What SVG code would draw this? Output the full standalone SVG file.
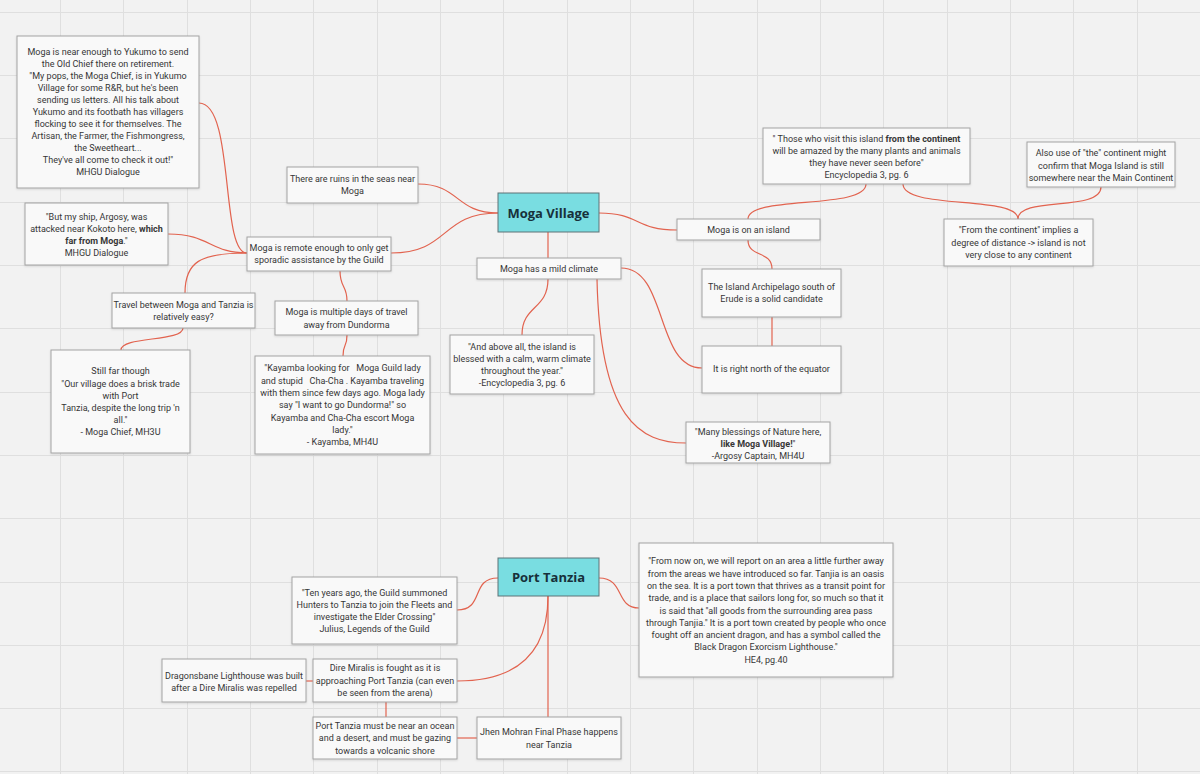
<svg xmlns="http://www.w3.org/2000/svg" width="1200" height="774" viewBox="0 0 1200 774">
<style>
.bg{fill:#f2f2f2}
.grid{stroke:#dfdfdf;stroke-width:1;fill:none}
.box{fill:#f9f9f9;stroke:#a3a3a3;stroke-width:1}
.hub{fill:#79dde1;stroke:#5e7276;stroke-width:1}
.t{font-family:Roboto,"Noto Sans",sans-serif;font-size:9px;fill:#363636;text-anchor:middle}
.h{font-family:"Open Sans","Noto Sans",sans-serif;font-size:13px;font-weight:bold;fill:#17303a;text-anchor:middle}
.c{fill:none;stroke:#e2634f;stroke-width:1.2}
.b{font-weight:bold}
</style>
<defs>
<filter id="sh" x="-5%" y="-5%" width="110%" height="115%">
<feDropShadow dx="0" dy="1" stdDeviation="0.8" flood-color="#000" flood-opacity="0.12"/>
</filter>
</defs>
<rect class="bg" x="0" y="0" width="1200" height="774"/>
<path class="grid" d="M60.5,0V774M123.5,0V774M187.5,0V774M250.5,0V774M313.5,0V774M377.5,0V774M440.5,0V774M503.5,0V774M567.5,0V774M630.5,0V774M693.5,0V774M757.5,0V774M820.5,0V774M883.5,0V774M947.5,0V774M1010.5,0V774M1073.5,0V774M1137.5,0V774M0,12.5H1200M0,75.5H1200M0,138.5H1200M0,202.5H1200M0,265.5H1200M0,328.5H1200M0,392.5H1200M0,455.5H1200M0,518.5H1200M0,582.5H1200M0,645.5H1200M0,708.5H1200M0,771.5H1200"/>

<g id="connectors">
<path class="c" d="M199,103 C235,103 220,253 247,253"/>
<path class="c" d="M168,234 C210,234 210,253 247,253"/>
<path class="c" d="M247,253 C200,253 185,262 185,293"/>
<path class="c" d="M183,328 C183,342 121,336 121,350"/>
<path class="c" d="M340,271 C340,288 347,285 347,301"/>
<path class="c" d="M347,335 C347,348 343,343 343,356"/>
<path class="c" d="M391,253 C450,253 440,213 498,213"/>
<path class="c" d="M418,184 C460,184 455,213 498,213"/>
<path class="c" d="M599,213 C640,213 635,230 677,230"/>
<path class="c" d="M548,232 L548,258"/>
<path class="c" d="M748,219 C748,195 866,210 866,184"/>
<path class="c" d="M903,184 C903,210 1018,195 1018,219"/>
<path class="c" d="M1101,187 C1101,212 1018,196 1018,219"/>
<path class="c" d="M748,240 C748,258 772,250 772,269"/>
<path class="c" d="M772,317 L772,346"/>
<path class="c" d="M621,268 C668,268 655,368 702,368"/>
<path class="c" d="M548,279 C548,310 522,305 522,335"/>
<path class="c" d="M597,279 C600,420 640,443 686,443"/>
<path class="c" d="M457,610 C485,610 470,578 498,578"/>
<path class="c" d="M548,596 C548,660 510,681 457,681"/>
<path class="c" d="M548,596 L548,717"/>
<path class="c" d="M386,702 L386,717"/>
<path class="c" d="M457,738 L477,738"/>
<path class="c" d="M306,681 L313,681"/>
<path class="c" d="M599,578 C625,578 615,608 639,608"/>
</g>

<g id="n-yukumo">
<rect class="box" filter="url(#sh)" x="17" y="36" width="182" height="152"/>
<text class="t"><tspan x="108" y="55">Moga is near enough to Yukumo to send</tspan><tspan x="108" y="67">the Old Chief there on retirement.</tspan><tspan x="108" y="79">"My pops, the Moga Chief, is in Yukumo</tspan><tspan x="108" y="91">Village for some R&amp;R, but he's been</tspan><tspan x="108" y="103">sending us letters.  All his talk about</tspan><tspan x="108" y="115">Yukumo and its footbath has villagers</tspan><tspan x="108" y="127">flocking to see it for themselves. The</tspan><tspan x="108" y="139">Artisan, the Farmer, the Fishmongress,</tspan><tspan x="108" y="151">the Sweetheart...</tspan><tspan x="108" y="163">They've all come to check it out!"</tspan><tspan x="108" y="175">MHGU Dialogue</tspan></text>
</g>

<g id="n-argosy">
<rect class="box" filter="url(#sh)" x="25" y="203" width="143" height="62"/>
<text class="t"><tspan x="96.5" y="220">"But my ship, Argosy, was</tspan><tspan x="96.5" y="232">attacked near Kokoto here, <tspan class="b">which</tspan></tspan><tspan x="96.5" y="244"><tspan class="b">far from Moga</tspan>."</tspan><tspan x="96.5" y="256">MHGU Dialogue</tspan></text>
</g>

<g id="n-remote">
<rect class="box" filter="url(#sh)" x="247" y="237" width="144" height="34"/>
<text class="t"><tspan x="319" y="251">Moga is remote enough to only get</tspan><tspan x="319" y="263">sporadic assistance by the Guild</tspan></text>
</g>

<g id="n-ruins">
<rect class="box" filter="url(#sh)" x="287" y="167" width="131" height="36"/>
<text class="t"><tspan x="352.5" y="182">There are ruins in the seas near</tspan><tspan x="352.5" y="194">Moga</tspan></text>
</g>

<g id="n-travel">
<rect class="box" filter="url(#sh)" x="112" y="293" width="143" height="35"/>
<text class="t"><tspan x="183.5" y="308">Travel between Moga and Tanzia is</tspan><tspan x="183.5" y="320">relatively easy?</tspan></text>
</g>

<g id="n-stillfar">
<rect class="box" filter="url(#sh)" x="51" y="350" width="139" height="103"/>
<text class="t"><tspan x="120.5" y="374">Still far though</tspan><tspan x="120.5" y="387">"Our village does a brisk trade</tspan><tspan x="120.5" y="399">with Port</tspan><tspan x="120.5" y="411">Tanzia, despite the long trip 'n</tspan><tspan x="120.5" y="423">all."</tspan><tspan x="120.5" y="435">- Moga Chief, MH3U</tspan></text>
</g>

<g id="n-dundorma">
<rect class="box" filter="url(#sh)" x="275" y="301" width="143" height="34"/>
<text class="t"><tspan x="346.5" y="315">Moga is multiple days of travel</tspan><tspan x="346.5" y="328">away from Dundorma</tspan></text>
</g>

<g id="n-kayamba">
<rect class="box" filter="url(#sh)" x="255" y="356" width="175" height="98"/>
<text class="t" xml:space="preserve"><tspan x="342.5" y="371">"Kayamba looking for   Moga Guild lady</tspan><tspan x="342.5" y="383.5">and stupid   Cha-Cha . Kayamba traveling</tspan><tspan x="342.5" y="396">with them since few days ago. Moga lady</tspan><tspan x="342.5" y="408">say "I want to go Dundorma!" so</tspan><tspan x="342.5" y="420.5">Kayamba and Cha-Cha escort Moga</tspan><tspan x="342.5" y="433">lady."</tspan><tspan x="342.5" y="445">- Kayamba, MH4U</tspan></text>
</g>

<g id="n-moga">
<rect class="hub" x="498" y="193" width="101" height="39"/>
<text class="h" x="548.5" y="218">Moga Village</text>
</g>

<g id="n-mild">
<rect class="box" filter="url(#sh)" x="477" y="258" width="144" height="21"/>
<text class="t" x="549" y="272">Moga has a mild climate</text>
</g>

<g id="n-encyclo">
<rect class="box" filter="url(#sh)" x="450" y="335" width="144" height="59"/>
<text class="t"><tspan x="522" y="350">"And above all, the island is</tspan><tspan x="522" y="362">blessed with a calm, warm climate</tspan><tspan x="522" y="374">throughout the year."</tspan><tspan x="522" y="386">-Encyclopedia 3, pg. 6</tspan></text>
</g>

<g id="n-continent-quote">
<rect class="box" filter="url(#sh)" x="763" y="128" width="207" height="56"/>
<text class="t"><tspan x="866.5" y="142">" Those who visit this island <tspan class="b">from the continent</tspan></tspan><tspan x="866.5" y="154">will be amazed by the many plants and animals</tspan><tspan x="866.5" y="166">they have never seen before"</tspan><tspan x="866.5" y="178">Encyclopedia 3, pg. 6</tspan></text>
</g>

<g id="n-island">
<rect class="box" filter="url(#sh)" x="677" y="219" width="143" height="21"/>
<text class="t" x="748.5" y="233">Moga is on an island</text>
</g>

<g id="n-fromcontinent">
<rect class="box" filter="url(#sh)" x="944" y="219" width="149" height="47"/>
<text class="t"><tspan x="1018.5" y="233">"From the continent" implies a</tspan><tspan x="1018.5" y="246">degree of distance -&gt; island is not</tspan><tspan x="1018.5" y="258">very close to any continent</tspan></text>
</g>

<g id="n-alsouse">
<rect class="box" filter="url(#sh)" x="1027" y="142" width="148" height="45"/>
<text class="t"><tspan x="1101" y="156">Also use of "the" continent might</tspan><tspan x="1101" y="169">confirm that Moga Island is still</tspan><tspan x="1101" y="181">somewhere near the Main Continent</tspan></text>
</g>

<g id="n-archipelago">
<rect class="box" filter="url(#sh)" x="702" y="269" width="139" height="48"/>
<text class="t"><tspan x="771.5" y="290">The Island Archipelago south of</tspan><tspan x="771.5" y="302">Erude is a solid candidate</tspan></text>
</g>

<g id="n-equator">
<rect class="box" filter="url(#sh)" x="702" y="346" width="139" height="47"/>
<text class="t" x="771.5" y="372">It is right north of the equator</text>
</g>

<g id="n-blessings">
<rect class="box" filter="url(#sh)" x="686" y="422" width="144" height="41"/>
<text class="t"><tspan x="758" y="435">"Many blessings of Nature here,</tspan><tspan x="758" y="447"><tspan class="b">like Moga Village!</tspan>"</tspan><tspan x="758" y="459">-Argosy Captain, MH4U</tspan></text>
</g>

<g id="n-tanzia">
<rect class="hub" x="498" y="558" width="101" height="38"/>
<text class="h" x="548.5" y="582">Port Tanzia</text>
</g>

<g id="n-tenyears">
<rect class="box" filter="url(#sh)" x="292" y="577" width="165" height="67"/>
<text class="t"><tspan x="374.5" y="596">"Ten years ago, the Guild summoned</tspan><tspan x="374.5" y="608">Hunters to Tanzia to join the Fleets and</tspan><tspan x="374.5" y="620">investigate the Elder Crossing"</tspan><tspan x="374.5" y="632">Julius, Legends of the Guild</tspan></text>
</g>

<g id="n-dire">
<rect class="box" filter="url(#sh)" x="313" y="659" width="144" height="43"/>
<text class="t"><tspan x="385" y="671">Dire Miralis is fought as it is</tspan><tspan x="385" y="684">approaching Port Tanzia (can even</tspan><tspan x="385" y="696">be seen from the arena)</tspan></text>
</g>

<g id="n-dragonsbane">
<rect class="box" filter="url(#sh)" x="162" y="659" width="144" height="43"/>
<text class="t"><tspan x="234" y="679">Dragonsbane Lighthouse was built</tspan><tspan x="234" y="691">after a Dire Miralis was repelled</tspan></text>
</g>

<g id="n-portmust">
<rect class="box" filter="url(#sh)" x="313" y="717" width="144" height="42"/>
<text class="t"><tspan x="385" y="729">Port Tanzia must be near an ocean</tspan><tspan x="385" y="741">and a desert, and must be gazing</tspan><tspan x="385" y="754">towards a volcanic shore</tspan></text>
</g>

<g id="n-jhen">
<rect class="box" filter="url(#sh)" x="477" y="717" width="144" height="42"/>
<text class="t"><tspan x="549" y="735">Jhen Mohran Final Phase happens</tspan><tspan x="549" y="748">near Tanzia</tspan></text>
</g>

<g id="n-he4">
<rect class="box" filter="url(#sh)" x="639" y="543" width="254" height="134"/>
<text class="t"><tspan x="766" y="564">"From now on, we will report on an area a little further away</tspan><tspan x="766" y="576.5">from the areas we have introduced so far. Tanjia is an oasis</tspan><tspan x="766" y="589">on the sea. It is a port town that thrives as a transit point for</tspan><tspan x="766" y="601">trade, and is a place that sailors long for, so much so that it</tspan><tspan x="766" y="613.5">is said that "all goods from the surrounding area pass</tspan><tspan x="766" y="626">through Tanjia." It is a port town created by people who once</tspan><tspan x="766" y="638">fought off an ancient dragon, and has a symbol called the</tspan><tspan x="766" y="650">Black Dragon Exorcism Lighthouse."</tspan><tspan x="766" y="663">HE4, pg.40</tspan></text>
</g>
</svg>
